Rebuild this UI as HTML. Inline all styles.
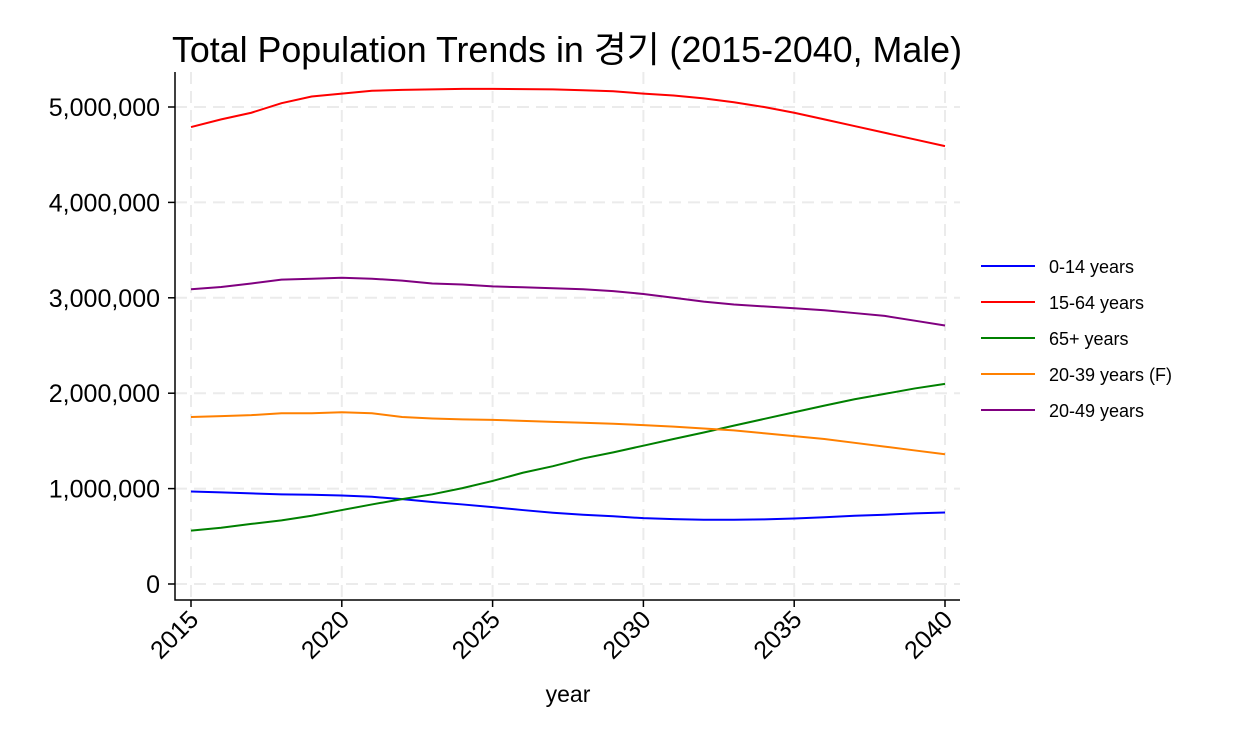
<!DOCTYPE html>
<html><head><meta charset="utf-8"><style>
body{margin:0;background:#fff}
svg{display:block;font-family:"Liberation Sans","Noto Sans CJK KR",sans-serif}
</style></head><body>
<svg width="1234" height="740" id="c">
<text x="172" y="62" font-size="36" textLength="790" lengthAdjust="spacingAndGlyphs">Total Population Trends in 경기 (2015-2040, Male)</text>
<g id="grid"></g>
<g id="axes"></g>
<g id="series"></g>
<g id="legend"></g>
<text x="568" y="702" font-size="23" text-anchor="middle">year</text>
</svg>
<script>
const years=[2015,2016,2017,2018,2019,2020,2021,2022,2023,2024,2025,2026,2027,2028,2029,2030,2031,2032,2033,2034,2035,2036,2037,2038,2039,2040];
const s0_14=[0.97,0.96,0.95,0.94,0.935,0.928,0.914,0.89,0.86,0.834,0.806,0.775,0.747,0.726,0.71,0.69,0.68,0.674,0.674,0.677,0.687,0.70,0.715,0.726,0.74,0.75];
const s15_64=[4.79,4.87,4.94,5.04,5.11,5.14,5.17,5.18,5.185,5.19,5.19,5.187,5.185,5.175,5.165,5.14,5.12,5.09,5.05,5.00,4.94,4.87,4.80,4.73,4.66,4.59];
const s65=[0.56,0.59,0.63,0.667,0.715,0.775,0.834,0.89,0.94,1.005,1.08,1.166,1.235,1.316,1.38,1.45,1.52,1.588,1.66,1.73,1.80,1.87,1.937,1.993,2.05,2.098];
const s20_39=[1.75,1.76,1.77,1.79,1.79,1.80,1.79,1.75,1.735,1.725,1.72,1.71,1.70,1.69,1.68,1.665,1.65,1.63,1.61,1.58,1.55,1.52,1.48,1.44,1.40,1.36];
const s20_49=[3.09,3.113,3.15,3.19,3.20,3.21,3.20,3.18,3.15,3.14,3.12,3.11,3.10,3.09,3.07,3.04,3.00,2.96,2.93,2.91,2.89,2.87,2.84,2.81,2.76,2.71];
const yTicks=[0,1,2,3,4,5];
const yTickLabels=["0","1,000,000","2,000,000","3,000,000","4,000,000","5,000,000"];
const xTicks=[2015,2020,2025,2030,2035,2040];
const seriesNames=["0-14 years","15-64 years","65+ years","20-39 years (F)","20-49 years"];
const seriesColors=["#0000ff","#ff0000","#008000","#ff8000","#800080"];
const seriesData=[s0_14,s15_64,s65,s20_39,s20_49];
const NS="http://www.w3.org/2000/svg";
const X=v=>191+(v-2015)*(945-191)/25;
const Y=v=>584-v*95.4;
function mk(p,t,a){const e=document.createElementNS(NS,t);for(const k in a)e.setAttribute(k,a[k]);p.appendChild(e);return e;}
const grid=document.getElementById('grid'),axes=document.getElementById('axes'),ser=document.getElementById('series'),leg=document.getElementById('legend');
yTicks.forEach((t,i)=>{
 const g=mk(grid,'line',{x1:175,x2:960,y1:Y(t),y2:Y(t),stroke:'#ebebeb','stroke-width':2,'stroke-dasharray':'12,7'});
 
 const tk=mk(axes,'line',{x1:168,x2:175,y1:Y(t),y2:Y(t),stroke:'#000','stroke-width':1.5});
 
 const l=mk(axes,'text',{x:160,y:Y(t)+9,'font-size':25,'text-anchor':'end'});l.textContent=yTickLabels[i];
 
});
xTicks.forEach(t=>{
 const g=mk(grid,'line',{x1:X(t),x2:X(t),y1:72,y2:600,stroke:'#ebebeb','stroke-width':2,'stroke-dasharray':'12,7'});
 
 const tk=mk(axes,'line',{x1:X(t),x2:X(t),y1:600,y2:607,stroke:'#000','stroke-width':1.5});
 
 const l=mk(axes,'text',{x:X(t)+9,y:621,'font-size':25,'text-anchor':'end',transform:`rotate(-45 ${X(t)+9} 621)`});l.textContent=t;
 
});
const ax=mk(axes,'path',{d:'M175,72 V600 H960',fill:'none',stroke:'#000','stroke-width':1.5});

seriesData.forEach((d,i)=>{
 const p=mk(ser,'polyline',{points:d.map((v,j)=>X(years[j])+','+Y(v)).join(' '),fill:'none',stroke:seriesColors[i],'stroke-width':2});
 
 
 const y=266+i*36;
 const ll=mk(leg,'line',{x1:981,x2:1035,y1:y,y2:y,stroke:seriesColors[i],'stroke-width':2});
 
 const lt=mk(leg,'text',{x:1049,y:y+7,'font-size':18});lt.textContent=seriesNames[i];
 
});
</script>
</body></html>
